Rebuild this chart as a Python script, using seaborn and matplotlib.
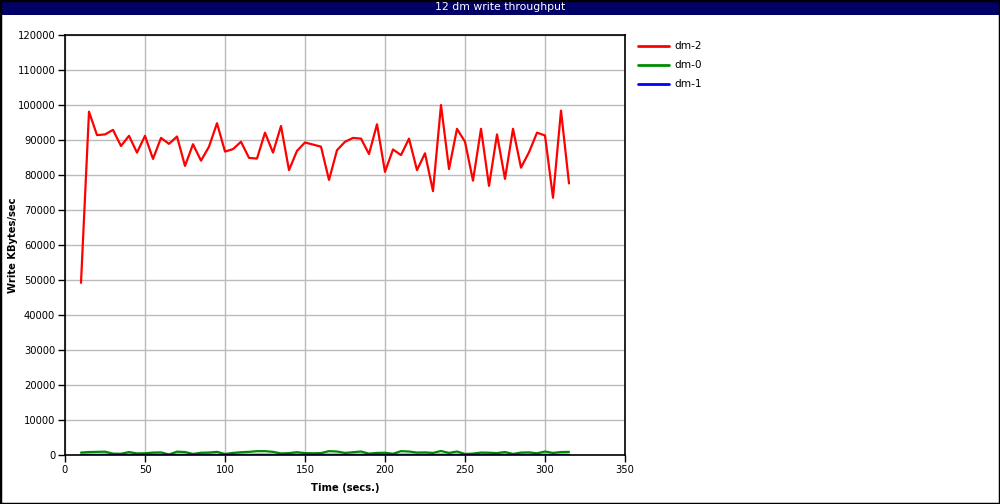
import seaborn as sns
import pandas as pd
import matplotlib.pyplot as plt
from matplotlib.patches import Rectangle

# Sample times (secs.)
time = list(range(10, 320, 5))

# Write throughput, KBytes/sec
dm2 = [49200, 98100, 91400, 91600, 92900, 88300, 91200, 86400, 91200, 84600,
       90600, 88900, 91000, 82600, 88800, 84100, 88100, 94800, 86700, 87400,
       89500, 84900, 84700, 92100, 86400, 94000, 81400, 86900, 89300, 88700,
       88100, 78600, 87100, 89500, 90600, 90400, 86000, 94500, 80900, 87300,
       85700, 90400, 81400, 86200, 75400, 100000, 81700, 93200, 89500, 78400,
       93200, 76900, 91600, 78900, 93200, 82100, 86500, 92100, 91300, 73500,
       98400, 77600]
dm0 = [700, 850, 900, 950, 400, 350, 850, 450, 500, 700,
       750, 150, 950, 850, 300, 650, 700, 900, 300, 600,
       800, 900, 1100, 1100, 900, 450, 550, 800, 550, 500,
       550, 1100, 1000, 600, 800, 1000, 400, 600, 650, 350,
       1100, 1000, 700, 750, 600, 1150, 600, 1000, 300, 400,
       700, 650, 550, 850, 300, 700, 750, 500, 1000, 600,
       850, 900]
dm1 = [40, 60, 50, 70, 30, 40, 60, 40, 50, 60,
       50, 30, 60, 50, 40, 50, 60, 50, 40, 50,
       60, 50, 70, 60, 50, 40, 50, 60, 40, 50,
       50, 60, 60, 40, 50, 60, 40, 50, 50, 40,
       60, 60, 50, 50, 40, 70, 40, 60, 30, 40,
       50, 50, 40, 60, 30, 50, 50, 40, 60, 40,
       50, 60]

series = ['dm-2', 'dm-0', 'dm-1']
colors = {'dm-2': '#ff0000', 'dm-0': '#008c00', 'dm-1': '#0000ff'}

df = pd.concat([
    pd.DataFrame({'Time': time, 'KB': vals, 'Device': name})
    for name, vals in zip(series, [dm2, dm0, dm1])
])

sns.set_style('white')
plt.rcParams['font.family'] = ['DejaVu Sans']
plt.rcParams['text.color'] = 'black'
plt.rcParams['axes.labelcolor'] = 'black'

fig = plt.figure(figsize=(10, 5.04), dpi=100)
ax = fig.add_axes([0.065, 0.0972, 0.56, 0.8333])

sns.lineplot(data=df, x='Time', y='KB', hue='Device', hue_order=series,
             palette=colors, linewidth=1.6, ax=ax)

ax.set_xlim(0, 350)
ax.set_ylim(0, 120000)
ax.set_xticks(range(0, 351, 50))
ax.set_yticks(range(0, 120001, 10000))
ax.grid(True, color='#bbbbbb', linewidth=1)
ax.set_axisbelow(True)
for s in ax.spines.values():
    s.set_color('black')
    s.set_linewidth(1.2)
ax.tick_params(direction='out', length=5, width=1, labelsize=7.2,
               colors='black', left=True, bottom=True, pad=2)
ax.set_xlabel('Time (secs.)', fontsize=7.2, fontweight='bold')
ax.set_ylabel('Write KBytes/sec', fontsize=7.2, fontweight='bold')
ax.yaxis.set_label_coords(-0.084, 0.5)
ax.xaxis.set_label_coords(0.5, -0.067)

leg = ax.legend(loc='upper left', bbox_to_anchor=(1.0125, 1.0), frameon=False,
                fontsize=7.6, handlelength=2.9, handletextpad=0.5,
                labelspacing=0.85, borderaxespad=0.2)
for line in leg.get_lines():
    line.set_linewidth(2)

# title bar and outer frame
fig.patches.append(Rectangle((0, 1 - 15 / 504), 1, 15 / 504, transform=fig.transFigure,
                             facecolor='#000066', edgecolor='none', zorder=0))
fig.text(0.5, 1 - 7.5 / 504, '12 dm write throughput', color='white',
         ha='center', va='center', fontsize=7.8)
fig.patches.append(Rectangle((0, 0), 1, 1, transform=fig.transFigure,
                             facecolor='none', edgecolor='black', linewidth=2.5))

fig.savefig('out.png', dpi=100)
